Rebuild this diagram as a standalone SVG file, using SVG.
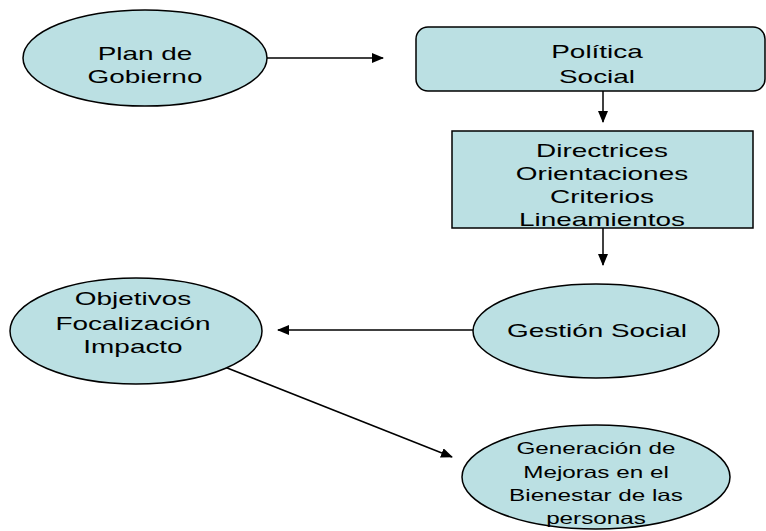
<svg xmlns="http://www.w3.org/2000/svg" width="766" height="531" viewBox="0 0 766 531">
<style>
.n{fill:#BBE0E3;stroke:#000;stroke-width:1.5}
.t{font-family:"Liberation Sans",Arial,sans-serif;font-size:19px;fill:#000;text-anchor:middle}
.s{font-size:16.5px}
.c{stroke:#000;stroke-width:1.5;fill:none;marker-end:url(#a)}
</style>
<defs>
<marker id="a" markerWidth="12" markerHeight="10" refX="11" refY="5" orient="auto" markerUnits="userSpaceOnUse">
<path d="M0,0 L12,5 L0,10 Z" fill="#000"/>
</marker>
</defs>
<rect width="766" height="531" fill="#fff"/>
<g id="connectors">
<line class="c" x1="267" y1="58" x2="383" y2="58"/>
<line class="c" x1="603" y1="91" x2="603" y2="122"/>
<line class="c" x1="603" y1="228" x2="603" y2="265"/>
<line class="c" x1="473" y1="330" x2="278" y2="330"/>
<line class="c" x1="207" y1="360" x2="452" y2="457"/>
</g>
<g id="plan">
<ellipse class="n" cx="145" cy="58" rx="122" ry="48"/>
<text class="t" transform="translate(145,60) scale(1.47,1)">Plan de</text>
<text class="t" transform="translate(145,83) scale(1.47,1)">Gobierno</text>
</g>
<g id="politica">
<rect class="n" x="416" y="27" width="349" height="64" rx="12"/>
<text class="t" transform="translate(597,58) scale(1.47,1)">Política</text>
<text class="t" transform="translate(597,83) scale(1.47,1)">Social</text>
</g>
<g id="directrices">
<rect class="n" x="452" y="131" width="301" height="97"/>
<text class="t" transform="translate(602,157) scale(1.47,1)">Directrices</text>
<text class="t" transform="translate(602,180) scale(1.47,1)">Orientaciones</text>
<text class="t" transform="translate(602,203) scale(1.47,1)">Criterios</text>
<text class="t" transform="translate(602,226) scale(1.47,1)">Lineamientos</text>
</g>
<g id="objetivos">
<ellipse class="n" cx="136" cy="331" rx="126" ry="53"/>
<text class="t" transform="translate(133,305) scale(1.47,1)">Objetivos</text>
<text class="t" transform="translate(133,330) scale(1.47,1)">Focalización</text>
<text class="t" transform="translate(133,353) scale(1.47,1)">Impacto</text>
</g>
<g id="gestion">
<ellipse class="n" cx="596" cy="331" rx="123" ry="47"/>
<text class="t" transform="translate(597,337) scale(1.47,1)">Gestión Social</text>
</g>
<g id="generacion">
<ellipse class="n" cx="596" cy="477" rx="134" ry="52"/>
<text class="t s" transform="translate(596,454) scale(1.47,1)">Generación de</text>
<text class="t s" transform="translate(596,478) scale(1.47,1)">Mejoras en el</text>
<text class="t s" transform="translate(596,501) scale(1.47,1)">Bienestar de las</text>
<text class="t s" transform="translate(596,524) scale(1.47,1)">personas</text>
</g>
</svg>
